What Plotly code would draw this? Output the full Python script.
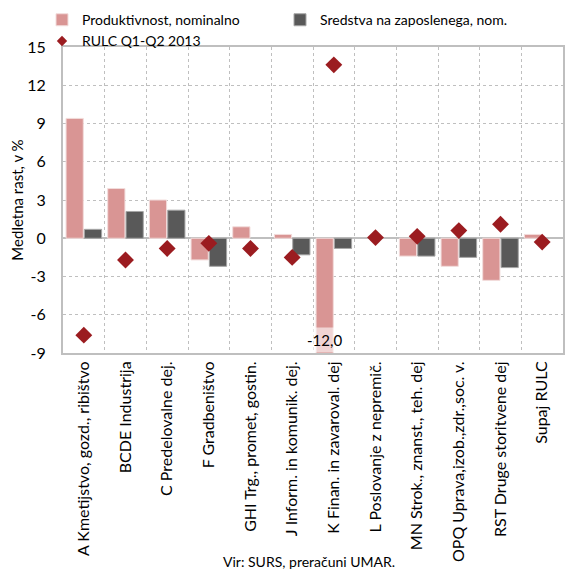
import plotly.graph_objects as go

categories = ["A Kmetijstvo, gozd., ribištvo", "BCDE Industrija", "C Predelovalne dej.",
              "F Gradbeništvo", "GHI Trg., promet, gostin.", "J Inform. in komunik. dej.",
              "K Finan. in zavaroval. dej", "L Poslovanje z nepremič.", "MN Strok., znanst., teh. dej",
              "OPQ Uprava,izob.,zdr.,soc. v.", "RST Druge storitvene dej", "Supaj RULC"]
produktivnost = [9.4, 3.9, 3.0, -1.7, 0.9, 0.3, -12.0, None, -1.4, -2.2, -3.3, 0.3]
sredstva = [0.7, 2.1, 2.2, -2.2, None, -1.3, -0.8, None, -1.4, -1.5, -2.3, None]
rulc = [-7.6, -1.7, -0.8, -0.4, -0.8, -1.5, 13.6, 0.05, 0.15, 0.6, 1.1, -0.3]
y_ticks = [-9, -6, -3, 0, 3, 6, 9, 12, 15]

font = "Lato"
grid = "#BFBFBF"
red = "#9B1C20"

fig = go.Figure()
fig.add_trace(go.Bar(x=categories, y=produktivnost, name="Produktivnost, nominalno",
                     marker=dict(color="#D99594", line=dict(color="#F2DCDB", width=1))))
fig.add_trace(go.Bar(x=categories, y=sredstva, name="Sredstva na zaposlenega, nom.",
                     marker=dict(color="#595959", line=dict(color="#A6A6A6", width=1))))
fig.add_trace(go.Scatter(x=categories, y=rulc, mode="markers", name="RULC Q1-Q2 2013",
                         showlegend=False, marker=dict(symbol="diamond", color=red, size=13)))
# smaller diamond for the legend entry
fig.add_trace(go.Scatter(x=[None], y=[None], mode="markers", name="RULC Q1-Q2 2013",
                         marker=dict(symbol="diamond", color=red, size=8)))

# off-scale K value gets its own label at the bottom of the axis
k = categories[6]
fig.add_annotation(x=k, y=-9, xshift=-9, yanchor="bottom", showarrow=False,
                   text=f"{produktivnost[6]:.1f}".replace(".", ","),
                   bgcolor="rgba(255,255,255,0.6)", borderpad=3,
                   font=dict(family=font, size=15, color="#000000"))

fig.add_annotation(x=0.492, y=-0.683, xref="paper", yref="paper", xanchor="center", yanchor="middle",
                   showarrow=False, text="Vir: SURS, preračuni UMAR.",
                   font=dict(family=font, size=14, color="#000000"))

# page body adds an 8px margin, so the figure is drawn 8px smaller
fig.update_layout(width=565, height=565, barmode="group", bargap=0.12, bargroupgap=0.06,
                  plot_bgcolor="#FFFFFF", paper_bgcolor="#FFFFFF",
                  margin=dict(l=55, r=10, t=39, b=220, autoexpand=False),
                  font=dict(family=font, size=15, color="#000000"),
                  legend=dict(orientation="h", x=-0.042, xanchor="left", y=1.14, yanchor="top",
                              entrywidth=193, font=dict(family=font, size=14),
                              bgcolor="rgba(0,0,0,0)", tracegroupgap=0, itemwidth=30),
                  showlegend=True)

fig.update_xaxes(type="category", range=[-0.5, len(categories) - 0.5], tickson="boundaries",
                 ticks="", tickangle=-90, automargin=False,
                 showgrid=True, gridcolor=grid, griddash="dot", gridwidth=1,
                 showline=True, linecolor=grid, linewidth=2, mirror=True,
                 tickfont=dict(family=font, size=16))
fig.update_yaxes(range=[-9, 15], tickvals=y_ticks, ticktext=[str(v) for v in y_ticks],
                 ticks="", ticklabelstandoff=12, automargin=False,
                 showgrid=True, gridcolor=grid, griddash="dot", gridwidth=1,
                 zeroline=True, zerolinecolor=grid, zerolinewidth=2,
                 showline=True, linecolor=grid, linewidth=2, mirror=True,
                 title=dict(text="Medletna rast, v %", standoff=6, font=dict(family=font, size=15)),
                 tickfont=dict(family=font, size=16))

fig.write_html("out.html")
